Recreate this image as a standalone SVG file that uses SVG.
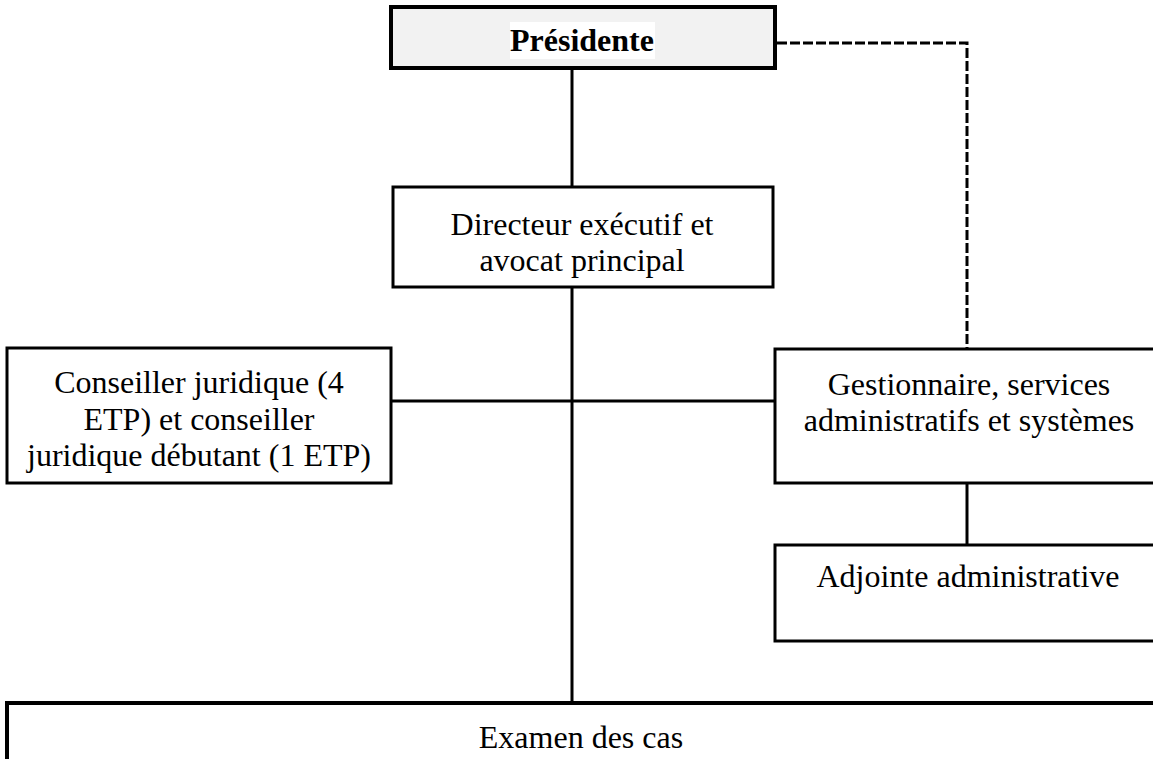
<svg xmlns="http://www.w3.org/2000/svg" width="1153" height="759" viewBox="0 0 1153 759">
<style>
.box{fill:#ffffff;stroke:#000;stroke-width:3}
.t{font-family:"Liberation Serif","Times New Roman",serif;font-size:32px;fill:#000;text-anchor:middle}
.c{fill:none;stroke:#000;stroke-width:3}
.d{fill:none;stroke:#000;stroke-width:3;stroke-dasharray:10 3}
</style>
<rect width="1153" height="759" fill="#fff"/>
<g id="connectors">
<line class="c" x1="572" y1="68" x2="572" y2="187"/>
<line class="c" x1="572" y1="287" x2="572" y2="703"/>
<line class="c" x1="391" y1="401" x2="775" y2="401"/>
<line class="c" x1="967" y1="483" x2="967" y2="545"/>
<polyline class="d" points="777,43 967,43 967,349"/>
</g>
<g id="presidente">
<rect x="391" y="7" width="384" height="61" fill="#f2f2f2" stroke="#000" stroke-width="4"/>
<rect x="510" y="22" width="145" height="37" fill="#fff"/>
<text class="t" x="582" y="51" font-weight="bold">Présidente</text>
</g>
<g id="directeur">
<rect class="box" x="393" y="187" width="380" height="100"/>
<text class="t" x="582" y="235">Directeur exécutif et</text>
<text class="t" x="582" y="271">avocat principal</text>
</g>
<g id="conseiller">
<rect class="box" x="7" y="348" width="384" height="135"/>
<text class="t" x="199" y="393">Conseiller juridique (4</text>
<text class="t" x="199" y="430">ETP) et conseiller</text>
<text class="t" x="199" y="466">juridique débutant (1 ETP)</text>
</g>
<g id="gestionnaire">
<rect class="box" x="775" y="349" width="390" height="134"/>
<text class="t" x="969" y="395">Gestionnaire, services</text>
<text class="t" x="969" y="431">administratifs et systèmes</text>
</g>
<g id="adjointe">
<rect class="box" x="775" y="545" width="390" height="96"/>
<text class="t" x="968" y="587">Adjointe administrative</text>
</g>
<g id="examen">
<rect x="7" y="703" width="1150" height="80" fill="#fff" stroke="#000" stroke-width="4"/>
<text class="t" x="581" y="748">Examen des cas</text>
</g>
</svg>
